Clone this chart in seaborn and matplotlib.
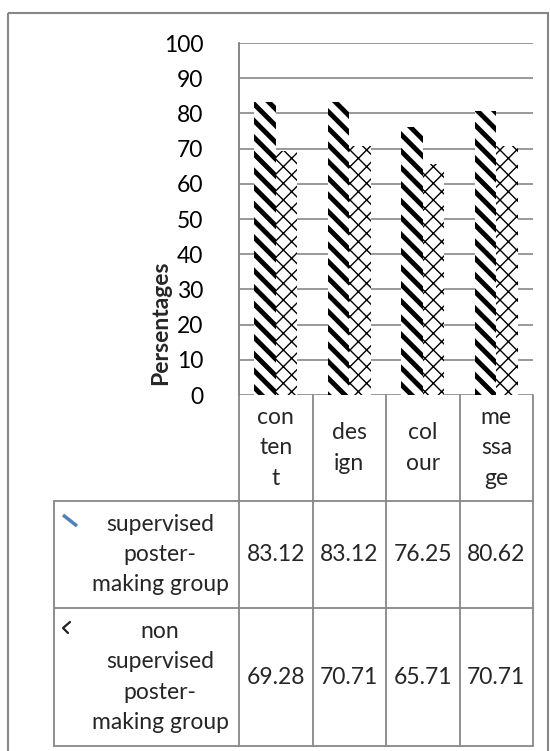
import matplotlib
matplotlib.use("Agg")
import matplotlib.pyplot as plt
import seaborn as sns
import pandas as pd
import numpy as np
from matplotlib.lines import Line2D
from matplotlib.patches import Rectangle

# ---- data ----
categories = ["content", "design", "colour", "message"]
header_labels = ["con\nten\nt", "des\nign", "col\nour", "me\nssa\nge"]
groups = ["supervised\nposter-\nmaking group", "non\nsupervised\nposter-\nmaking group"]
supervised = [83.12, 83.12, 76.25, 80.62]
non_supervised = [69.28, 70.71, 65.71, 70.71]
yticks = list(range(0, 101, 10))
ylabel = "Persentages"

sns.set_theme(style="white")
FONT = ["Lato", "DejaVu Sans"]
plt.rcParams["font.family"] = FONT
plt.rcParams["hatch.linewidth"] = 3.0

df = pd.DataFrame({
    "category": categories * 2,
    "value": supervised + non_supervised,
    "group": [groups[0]] * 4 + [groups[1]] * 4,
})

W, H = 550, 751
fig = plt.figure(figsize=(W / 100, H / 100), dpi=100)
fig.patch.set_facecolor("white")

# plot area in pixels
L, R, T, B = 239, 533, 43, 395
ax = fig.add_axes([L / W, 1 - B / H, (R - L) / W, (B - T) / H])

GRAY = "#878787"
FS = 16.5
LS = 1.55

sns.barplot(data=df, x="category", y="value", hue="group", order=categories,
            hue_order=groups, palette=["white", "white"], width=0.585, gap=0,
            legend=False, ax=ax, saturation=1, linewidth=0)

hatches = ["\\\\", "xx"]
hlw = [3.5, 1.0]
for cont, h, lw in zip(ax.containers, hatches, hlw):
    for bar in cont:
        bar.set_hatch(h)
        bar.set_edgecolor("black")
        bar.set_facecolor("white")
        bar.set_linewidth(0)
        if hasattr(bar, "set_hatch_linewidth"):
            bar.set_hatch_linewidth(lw)

ax.set_xlim(-0.5, len(categories) - 0.5)
ax.set_ylim(0, 100)
ax.set_yticks(yticks)
ax.yaxis.grid(True, color=GRAY, linewidth=1.2)
ax.set_axisbelow(True)
ax.set_xticks([])
ax.set_xlabel("")
ax.set_ylabel("")
for s in ["top", "right", "bottom"]:
    ax.spines[s].set_visible(False)
ax.spines["left"].set_color(GRAY)
ax.spines["left"].set_linewidth(1.2)
ax.tick_params(axis="y", length=0, pad=25.5, labelsize=FS, labelcolor="black")

# ---- overlay for data table and frame (pixel coordinates) ----
ov = fig.add_axes([0, 0, 1, 1])
ov.set_xlim(0, W)
ov.set_ylim(H, 0)
ov.axis("off")

# outer chart frame
ov.add_patch(Rectangle((8, 13), 540, 760, fill=False, edgecolor=GRAY, linewidth=1.5))

# y label
ov.text(161, 323, ylabel, rotation=90, ha="center", va="center",
        fontsize=FS, fontweight="bold", family=FONT)

# table geometry
col_edges = [L + (R - L) * i / len(categories) for i in range(len(categories) + 1)]
row_edges = [B, 501, 608, 746]
TL = 54

def hline(y, x0, x1):
    ov.add_line(Line2D([x0, x1], [y, y], color=GRAY, linewidth=1.3))

def vline(x, y0, y1):
    ov.add_line(Line2D([x, x], [y0, y1], color=GRAY, linewidth=1.3))

hline(row_edges[1], TL, R)
hline(row_edges[2], TL, R)
hline(row_edges[3], TL, R)
vline(TL, row_edges[1], row_edges[3])
vline(L, T, row_edges[3])
for x in col_edges[1:]:
    vline(x, row_edges[0], row_edges[3])

# header
hy = (row_edges[0] + row_edges[1]) / 2
for i, lab in enumerate(header_labels):
    cx = (col_edges[i] + col_edges[i + 1]) / 2
    ov.text(cx, hy, lab, ha="center", va="center", fontsize=FS,
            linespacing=LS, family=FONT)

# rows
for r, (g, vals) in enumerate(zip(groups, [supervised, non_supervised])):
    cy = (row_edges[r + 1] + row_edges[r + 2]) / 2
    ov.text(160, cy, g, ha="center", va="center", fontsize=FS,
            linespacing=LS, family=FONT, multialignment="center")
    for i, v in enumerate(vals):
        cx = (col_edges[i] + col_edges[i + 1]) / 2
        ov.text(cx, cy, f"{v:.2f}", ha="center", va="center", fontsize=FS, family=FONT)

# legend keys
ov.add_line(Line2D([63, 77], [515, 526], color="#4f81bd", linewidth=2.5, solid_capstyle="butt"))
ov.add_line(Line2D([70, 63, 68], [622, 628, 633], color="#222222", linewidth=1.6))

fig.savefig("out.png", dpi=100, facecolor="white")
